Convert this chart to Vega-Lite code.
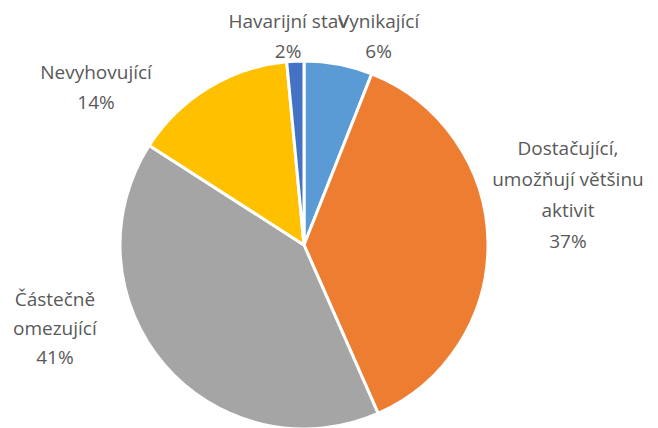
{
  "$schema": "https://vega.github.io/schema/vega-lite/v6.json",
  "width": 658,
  "height": 428,
  "autosize": {"type": "none"},
  "padding": 0,
  "background": "white",
  "view": {"stroke": null},
  "data": {"values": [
    {"cat": "Vynikající", "value": 6.0, "label": "Vynikající\n6%", "order": 1},
    {"cat": "Dostačující, umožňují většinu aktivit", "value": 37.4, "label": "Dostačující,\numožňují většinu\naktivit\n37%", "order": 2},
    {"cat": "Částečně omezující", "value": 40.7, "label": "Částečně\nomezující\n41%", "order": 3},
    {"cat": "Nevyhovující", "value": 14.4, "label": "Nevyhovující\n14%", "order": 4},
    {"cat": "Havarijní stav", "value": 1.5, "label": "Havarijní stav\n2%", "order": 5}
  ]},
  "encoding": {
    "theta": {"field": "value", "type": "quantitative", "stack": true},
    "order": {"field": "order", "type": "quantitative"}
  },
  "layer": [
    {
      "mark": {"type": "arc", "outerRadius": 184, "stroke": "white", "strokeWidth": 3, "x": 304, "y": 245},
      "encoding": {
        "color": {"field": "cat", "type": "nominal", "legend": null,
          "scale": {"domain": ["Vynikající", "Dostačující, umožňují většinu aktivit", "Částečně omezující", "Nevyhovující", "Havarijní stav"],
                    "range": ["#5B9BD5", "#ED7D31", "#A5A5A5", "#FFC000", "#4472C4"]}}
      }
    },
    {
      "mark": {"type": "text", "radius": 210, "x": 304, "y": 245, "dx": -6, "dy": -13, "align": "center", "baseline": "middle", "lineBreak": "\n", "lineHeight": 30, "font": "Open Sans", "fontSize": 19, "color": "#595959"},
      "encoding": {"text": {"condition": {"test": "datum.order == 5", "field": "label"}, "value": ""}}
    },
    {
      "mark": {"type": "text", "radius": 222, "x": 304, "y": 245, "dx": 33, "dy": -5, "align": "center", "baseline": "middle", "lineBreak": "\n", "lineHeight": 30, "font": "Open Sans", "fontSize": 19, "color": "#595959"},
      "encoding": {"text": {"condition": {"test": "datum.order == 1", "field": "label"}, "value": ""}}
    },
    {
      "mark": {"type": "text", "radius": 264, "x": 304, "y": 245, "dx": 0, "dy": -91, "align": "center", "baseline": "middle", "lineBreak": "\n", "lineHeight": 31, "font": "Open Sans", "fontSize": 19, "color": "#595959"},
      "encoding": {"text": {"condition": {"test": "datum.order == 2", "field": "label"}, "value": ""}}
    },
    {
      "mark": {"type": "text", "radius": 300, "x": 304, "y": 245, "dx": -21, "dy": -140, "align": "center", "baseline": "middle", "lineBreak": "\n", "lineHeight": 29, "font": "Open Sans", "fontSize": 19, "color": "#595959"},
      "encoding": {"text": {"condition": {"test": "datum.order == 3", "field": "label"}, "value": ""}}
    },
    {
      "mark": {"type": "text", "radius": 250, "x": 304, "y": 245, "dx": -78, "dy": 42, "align": "center", "baseline": "middle", "lineBreak": "\n", "lineHeight": 30, "font": "Open Sans", "fontSize": 19, "color": "#595959"},
      "encoding": {"text": {"condition": {"test": "datum.order == 4", "field": "label"}, "value": ""}}
    }
  ]
}
